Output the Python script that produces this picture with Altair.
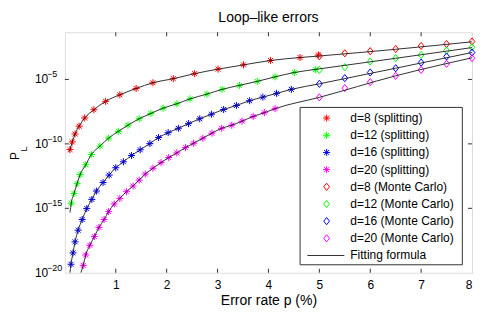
import altair as alt
import pandas as pd

# ---------------- data (log10 of P_L) ----------------
split_p_d8 = [0.10, 0.145, 0.20, 0.28, 0.39, 0.57, 0.80, 1.08, 1.40, 1.73, 2.13, 2.55, 3.01, 3.51, 4.04, 4.62, 4.98]
split_lg_d8 = [-10.44, -9.85, -9.23, -8.63, -7.99, -7.35, -6.70, -6.19, -5.70, -5.26, -4.94, -4.55, -4.20, -3.87, -3.53, -3.30, -3.10]

split_p_d12 = [0.125, 0.18, 0.24, 0.30, 0.41, 0.52, 0.69, 0.86, 1.05, 1.24, 1.46, 1.69, 1.93, 2.20, 2.46, 2.79, 3.09, 3.43, 3.78, 4.13, 4.51, 4.92]
split_lg_d12 = [-14.60, -13.85, -13.09, -12.38, -11.62, -10.83, -10.17, -9.55, -9.03, -8.55, -8.05, -7.64, -7.23, -6.89, -6.51, -6.14, -5.77, -5.46, -5.15, -4.80, -4.46, -4.24]

split_p_d16 = [0.12, 0.16, 0.20, 0.26, 0.34, 0.43, 0.53, 0.62, 0.75, 0.87, 1.00, 1.15, 1.31, 1.48, 1.67, 1.84, 2.03, 2.23, 2.43, 2.65, 2.88, 3.12, 3.37, 3.63, 3.89, 4.16, 4.45]
split_lg_d16 = [-19.34, -18.46, -17.60, -16.70, -15.87, -15.02, -14.31, -13.66, -13.00, -12.42, -11.85, -11.39, -10.90, -10.46, -9.98, -9.51, -9.13, -8.79, -8.43, -8.05, -7.70, -7.33, -7.02, -6.65, -6.37, -6.08, -5.77]

split_p_d20 = [0.36, 0.41, 0.49, 0.58, 0.67, 0.77, 0.86, 0.97, 1.08, 1.21, 1.34, 1.46, 1.58, 1.73, 1.89, 2.04, 2.20, 2.37, 2.53, 2.71, 2.89, 3.08, 3.28, 3.48, 3.70, 3.92, 4.13]
split_lg_d20 = [-19.43, -18.62, -17.87, -17.19, -16.48, -15.87, -15.25, -14.66, -14.23, -13.71, -13.27, -12.81, -12.34, -11.89, -11.45, -11.06, -10.70, -10.29, -9.95, -9.56, -9.17, -8.79, -8.55, -8.24, -7.87, -7.58, -7.27]

mc_p = [5.0, 5.5, 6.0, 6.5, 7.0, 7.5, 8.0]
mc_lg_d8 = [-3.20, -2.97, -2.81, -2.64, -2.40, -2.25, -2.06]
mc_lg_d12 = [-4.26, -4.05, -3.61, -3.35, -3.10, -2.76, -2.50]
mc_lg_d16 = [-5.34, -4.90, -4.46, -4.13, -3.69, -3.22, -2.91]
mc_lg_d20 = [-6.39, -5.67, -5.21, -4.72, -4.26, -3.79, -3.35]

# fitting-formula curves: start of curve, then along the splitting points, then p = 5, 6.5, 8
fit_start_d8, fit_start_d12, fit_start_d16, fit_start_d20 = (0.08, -10.60), (0.10, -15.33), (0.10, -20.0), (0.315, -20.0)
fit_tail_p = [5.0, 6.5, 8.0]
fit_tail_d8 = [-3.18, -2.66, -2.08]
fit_tail_d12 = [-4.18, -3.36, -2.53]
fit_tail_d16 = [-5.34, -4.13, -2.91]
fit_tail_d20 = [-6.39, -4.72, -3.32]

distances = ["d=8", "d=12", "d=16", "d=20"]
colors = ["#ff0000", "#00ff00", "#0000ff", "#ff00ff"]
legend_labels = ["d=8 (splitting)", "d=12 (splitting)", "d=16 (splitting)", "d=20 (splitting)",
                 "d=8 (Monte Carlo)", "d=12 (Monte Carlo)", "d=16 (Monte Carlo)", "d=20 (Monte Carlo)",
                 "Fitting formula"]
title_text = "Loop\u2013like errors"
x_ticks = [1, 2, 3, 4, 5, 6, 7]
y_ticks = [1e-5, 1e-10, 1e-15]
y_label_vals = [1e-5, 1e-10, 1e-15, 1e-20]
y_label_exps = ["\u22125", "\u221210", "\u221215", "\u221220"]

# ---------------- tables ----------------
split_sets = [(split_p_d8, split_lg_d8), (split_p_d12, split_lg_d12), (split_p_d16, split_lg_d16), (split_p_d20, split_lg_d20)]
mc_sets = [mc_lg_d8, mc_lg_d12, mc_lg_d16, mc_lg_d20]
fit_sets = [
    ([fit_start_d8[0]] + split_p_d8[:-1] + fit_tail_p, [fit_start_d8[1]] + split_lg_d8[:-1] + fit_tail_d8),
    ([fit_start_d12[0]] + split_p_d12[:-1] + fit_tail_p, [fit_start_d12[1]] + split_lg_d12[:-1] + fit_tail_d12),
    ([fit_start_d16[0]] + split_p_d16 + fit_tail_p, [fit_start_d16[1]] + split_lg_d16 + fit_tail_d16),
    ([fit_start_d20[0]] + split_p_d20 + fit_tail_p, [fit_start_d20[1]] + split_lg_d20 + fit_tail_d20),
]

rows = []
for d, c, (ps, ls) in zip(distances, colors, split_sets):
    for p, l in zip(ps, ls):
        rows.append({"d": d, "color": c, "p": p, "P": 10 ** l})
df_split = pd.DataFrame(rows)

rows = []
for d, c, ls in zip(distances, colors, mc_sets):
    for p, l in zip(mc_p, ls):
        rows.append({"d": d, "color": c, "p": p, "P": 10 ** l})
df_mc = pd.DataFrame(rows)

rows = []
for d, (ps, ls) in zip(distances, fit_sets):
    for i, (p, l) in enumerate(zip(ps, ls)):
        rows.append({"d": d, "i": i, "p": p, "P": 10 ** l})
df_fit = pd.DataFrame(rows)

df_leg = pd.DataFrame({
    "row": list(range(9)),
    "label": legend_labels,
    "color": colors + colors + ["#000000"],
    "kind": ["star"] * 4 + ["diamond"] * 4 + ["line"],
})
df_xt = pd.DataFrame({"p": x_ticks})
df_yt = pd.DataFrame({"P": y_ticks})
df_yl = pd.DataFrame({"P": y_label_vals, "exp": y_label_exps, "base": ["10"] * 4})
df_one = pd.DataFrame({"a": [0]})

# ---------------- layout ----------------
W, H = 408, 241
FONT = "Liberation Sans"
STAR = "M-1,0L1,0M0,-1L0,1M-0.7,-0.7L0.7,0.7M-0.7,0.7L0.7,-0.7"
DIAM = "M0,-1L0.8,0L0,1L-0.8,0Z"

xs = alt.Scale(domain=[0, 8], nice=False, zero=False)
ys = alt.Scale(type="log", domain=[1e-20, 10 ** -1.34], nice=False)
legy = alt.Scale(domain=[0, 8], range=[86, 223.7], nice=False, zero=False)

x_axis = alt.Axis(values=[1, 2, 3, 4, 5, 6, 7, 8], format="d", ticks=False, tickSize=0, domain=False,
                  grid=False, labelPadding=7, labelFontSize=12, labelFont=FONT, labelColor="#000",
                  title="Error rate p (%)", titleFontSize=14, titleFont=FONT, titleFontWeight="normal",
                  titleColor="#000", titlePadding=3)

X = lambda ax=None: alt.X("p:Q", scale=xs, axis=ax)
Y = alt.Y("P:Q", scale=ys, axis=None)

stars = alt.Chart(df_split).mark_point(shape=STAR, filled=False, size=50, strokeWidth=1, opacity=1).encode(
    x=X(x_axis), y=Y, color=alt.Color("color:N", scale=None))
diamonds = alt.Chart(df_mc).mark_point(shape=DIAM, filled=False, size=52, strokeWidth=1, opacity=1).encode(
    x=X(), y=Y, color=alt.Color("color:N", scale=None))
fits = alt.Chart(df_fit).mark_line(color="#1a1a1a", strokeWidth=0.9, interpolate="monotone", clip=True).encode(
    x=X(), y=Y, detail="d:N", order="i:Q")

tick_style = dict(color="#333", strokeWidth=1)
xt_bottom = alt.Chart(df_xt).mark_rule(**tick_style).encode(x=X(), y=alt.value(H), y2=alt.value(H - 4))
xt_top = alt.Chart(df_xt).mark_rule(**tick_style).encode(x=X(), y=alt.value(0), y2=alt.value(4))
yt_left = alt.Chart(df_yt).mark_rule(**tick_style).encode(y=Y, x=alt.value(0), x2=alt.value(4))
yt_right = alt.Chart(df_yt).mark_rule(**tick_style).encode(y=Y, x=alt.value(W - 4), x2=alt.value(W))

yl_base = alt.Chart(df_yl).mark_text(align="left", baseline="middle", fontSize=12, font=FONT, color="#000").encode(
    y=Y, x=alt.value(-30), text="base:N")
yl_exp = alt.Chart(df_yl).mark_text(align="left", baseline="middle", fontSize=9, font=FONT, color="#000", dy=-5).encode(
    y=Y, x=alt.value(-18), text="exp:N")

ytitle_P = alt.Chart(df_one).mark_text(angle=270, align="center", baseline="middle", fontSize=12, font=FONT, color="#000").encode(
    x=alt.value(-49.5), y=alt.value(124), text=alt.value("P"))
ytitle_L = alt.Chart(df_one).mark_text(angle=270, align="center", baseline="middle", fontSize=9, font=FONT, color="#000").encode(
    x=alt.value(-41), y=alt.value(117), text=alt.value("L"))

title = alt.Chart(df_one).mark_text(align="center", baseline="alphabetic", fontSize=14, font=FONT, color="#000").encode(
    x=alt.value(W / 2), y=alt.value(-10), text=alt.value(title_text))

leg_box = alt.Chart(df_one).mark_rect(fill="white", stroke="#333", strokeWidth=1).encode(
    x=alt.value(235.7), x2=alt.value(398.3), y=alt.value(75.3), y2=alt.value(233))
LY = alt.Y("row:Q", scale=legy, axis=None)
leg_star = alt.Chart(df_leg).transform_filter("datum.kind == 'star'").mark_point(
    shape=STAR, filled=False, size=50, strokeWidth=1, opacity=1).encode(
    x=alt.value(262.3), y=LY, color=alt.Color("color:N", scale=None))
leg_diam = alt.Chart(df_leg).transform_filter("datum.kind == 'diamond'").mark_point(
    shape=DIAM, filled=False, size=52, strokeWidth=1, opacity=1).encode(
    x=alt.value(262.3), y=LY, color=alt.Color("color:N", scale=None))
leg_line = alt.Chart(df_leg).transform_filter("datum.kind == 'line'").mark_rule(color="#1a1a1a", strokeWidth=0.9).encode(
    x=alt.value(243), x2=alt.value(280), y=LY)
leg_text = alt.Chart(df_leg).mark_text(align="left", baseline="middle", fontSize=12, font=FONT, color="#000").encode(
    x=alt.value(286), y=LY, text="label:N")

chart = alt.layer(
    stars, diamonds, fits, xt_bottom, xt_top, yt_left, yt_right, yl_base, yl_exp, ytitle_P, ytitle_L, title,
    leg_box, leg_star, leg_diam, leg_line, leg_text
).resolve_scale(x="independent", y="independent").resolve_axis(x="independent", y="independent").properties(
    width=W, height=H,
    autosize=alt.AutoSizeParams(type="none"),
    padding={"left": 57, "top": 24, "right": 10, "bottom": 40},
).configure_view(stroke="#333", strokeWidth=1).configure(background="white")

chart.save("out.html", embed_options={"renderer": "svg", "actions": False})
